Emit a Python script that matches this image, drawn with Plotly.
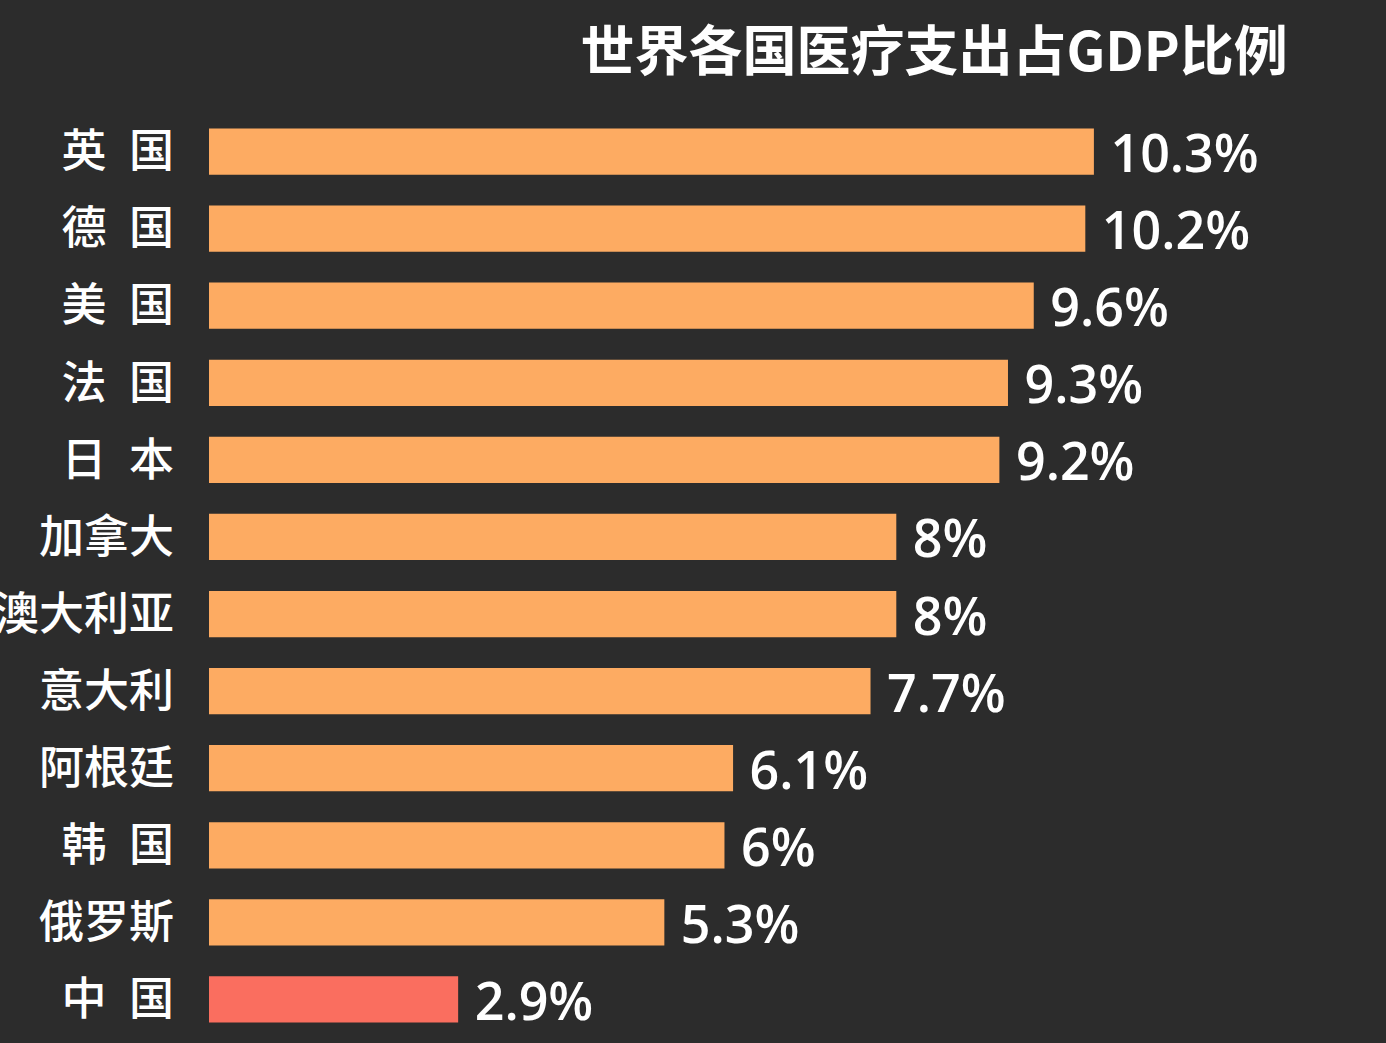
import plotly.graph_objects as go

# 数据
countries = ["英\u2002国", "德\u2002国", "美\u2002国", "法\u2002国", "日\u2002本", "加拿大",
             "澳大利亚", "意大利", "阿根廷", "韩\u2002国", "俄罗斯", "中\u2002国"]
values = [10.3, 10.2, 9.6, 9.3, 9.2, 8, 8, 7.7, 6.1, 6, 5.3, 2.9]
labels = ["10.3%", "10.2%", "9.6%", "9.3%", "9.2%", "8%",
          "8%", "7.7%", "6.1%", "6%", "5.3%", "2.9%"]

colors = ["#FDAB62"] * (len(values) - 1) + ["#FA6E5F"]

fig = go.Figure()
fig.add_trace(go.Bar(
    y=countries,
    x=values,
    orientation="h",
    marker=dict(color=colors, line=dict(width=0)),
    text=labels,
    texttemplate="\u00a0%{text}",
    textposition="outside",
    constraintext="none",
    cliponaxis=False,
    textfont=dict(family="Open Sans", size=52, color="white", weight=600),
    showlegend=False,
))

fig.update_layout(
    width=1386, height=1043,
    paper_bgcolor="#2C2C2C",
    plot_bgcolor="#2C2C2C",
    margin=dict(l=209, r=0, t=113, b=5),
    bargap=0.4,
    title=dict(
        text="<b>世界各国医疗支出占GDP比例</b>",
        x=0.674, xanchor="center",
        y=0.95, yanchor="middle",
        font=dict(family="Noto Sans CJK SC", size=54, color="white"),
    ),
    xaxis=dict(range=[0, 13.7], visible=False, showgrid=False, automargin=False),
    yaxis=dict(
        autorange="reversed", automargin=False,
        showgrid=False, zeroline=False, showline=False,
        ticks="", ticklabelstandoff=34,
        tickfont=dict(family="Noto Sans CJK SC", size=45, color="white", weight=500),
    ),
)

# 去掉页面默认边距
fig.write_html("out.html", config={"displayModeBar": False},
               post_script="document.body.style.margin='0';")
